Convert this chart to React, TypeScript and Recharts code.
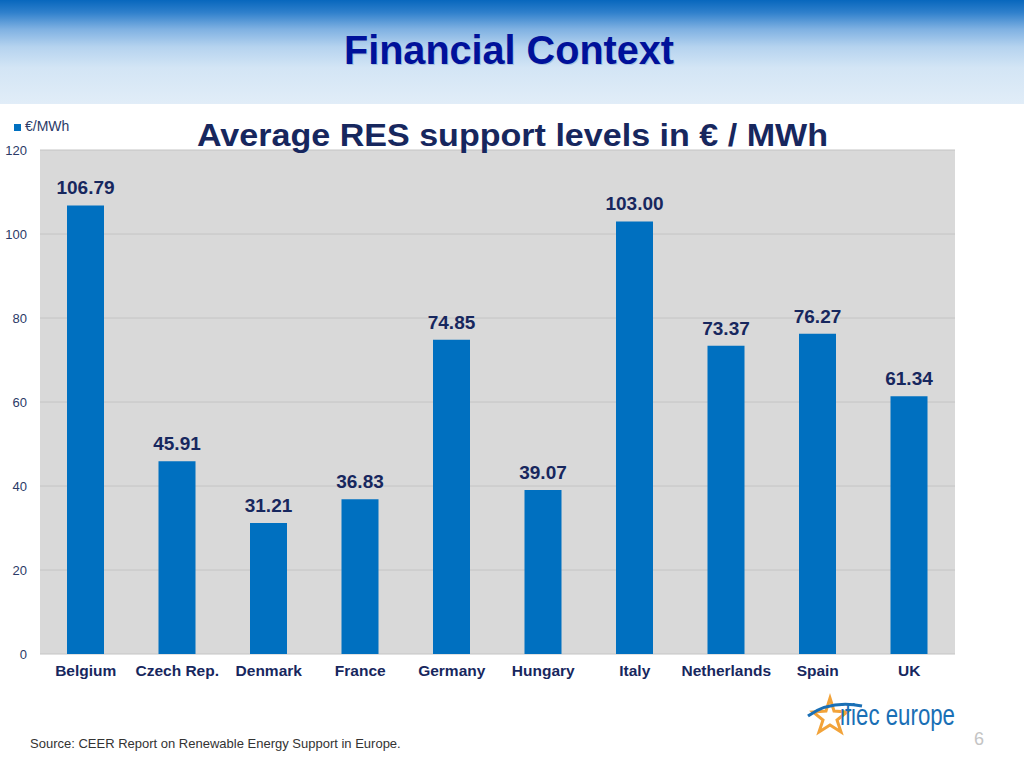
import React from "react";
import { BarChart, Bar, XAxis, YAxis, CartesianGrid, LabelList, Legend } from "recharts";

const countries = ["Belgium", "Czech Rep.", "Denmark", "France", "Germany", "Hungary", "Italy", "Netherlands", "Spain", "UK"];
const supportLevels = [106.79, 45.91, 31.21, 36.83, 74.85, 39.07, 103.0, 73.37, 76.27, 61.34];
const yTicks = [0, 20, 40, 60, 80, 100, 120];
const seriesName = "€/MWh";

const data = countries.map((c, i) => ({ country: c, value: supportLevels[i] }));

const NAVY = "#17275e";
const BAR = "#0070c0";
const FONT = "Liberation Sans, Arial, sans-serif";

export default function App() {
  return (
    <div
      style={{
        position: "absolute",
        left: 0,
        top: 0,
        width: 1024,
        height: 768,
        background: "#ffffff",
        overflow: "hidden",
        fontFamily: FONT,
      }}
    >
      <div
        style={{
          position: "absolute",
          left: 0,
          top: 0,
          width: 1024,
          height: 104,
          background:
            "linear-gradient(to bottom, #0867bd 0%, #2f80cc 12%, #7fb1e2 28%, #b5d3ef 45%, #d3e5f5 65%, #e1edf8 100%)",
        }}
      />
      <div style={{ position: "absolute", left: 0, top: 0 }}>
        <BarChart
          width={1024}
          height={768}
          data={data}
          margin={{ top: 134, right: 69, bottom: 84, left: 0 }}
        >
          <CartesianGrid vertical={false} fill="#d9d9d9" stroke="#c4c4c4" strokeWidth={1} />
          <XAxis
            dataKey="country"
            axisLine={false}
            tickLine={false}
            tickSize={0}
            tickMargin={11}
            height={30}
            interval={0}
            tick={{ fill: NAVY, fontSize: 15.5, fontWeight: "bold" }}
          />
          <YAxis
            domain={[0, 120]}
            ticks={yTicks}
            width={40}
            axisLine={false}
            tickLine={false}
            tickSize={0}
            tickMargin={13}
            tick={{ fill: "#2b3a67", fontSize: 13 }}
          />
          <Legend
            verticalAlign="top"
            align="left"
            iconType="square"
            iconSize={7}
            wrapperStyle={{ position: "absolute", top: 118, left: 14, width: 120, fontSize: 14, height: 16, lineHeight: "16px" }}
            formatter={(v: string) => <span style={{ color: "#2b3a67", fontSize: 14 }}>{v}</span>}
          />
          <Bar dataKey="value" name={seriesName} fill={BAR} barSize={37} isAnimationActive={false}>
            <LabelList
              dataKey="value"
              position="top"
              offset={11}
              formatter={(v: number) => v.toFixed(2)}
              style={{ fill: NAVY, fontSize: 19, fontWeight: "bold" }}
            />
          </Bar>
        </BarChart>
      </div>
      <svg
        style={{ position: "absolute", left: 0, top: 0, pointerEvents: "none" }}
        width={1024}
        height={768}
      >
        <text
          x={345}
          y={65}
          fontSize={40}
          fontWeight="bold"
          fill="#a9c3df"
          textLength={330}
          lengthAdjust="spacingAndGlyphs"
          fontFamily={FONT}
        >
          Financial Context
        </text>
        <text
          x={344}
          y={64}
          fontSize={40}
          fontWeight="bold"
          fill="#00119a"
          textLength={330}
          lengthAdjust="spacingAndGlyphs"
          fontFamily={FONT}
        >
          Financial Context
        </text>
        <text
          x={197}
          y={146}
          fontSize={32}
          fontWeight="bold"
          fill={NAVY}
          textLength={631}
          lengthAdjust="spacingAndGlyphs"
          fontFamily={FONT}
        >
          Average RES support levels in € / MWh
        </text>
        <text x={30} y={748} fontSize={13} fill="#333333" fontFamily={FONT}>
          Source: CEER Report on Renewable Energy Support in Europe.
        </text>
        {/* logo approximation */}
        <g>
          <path
            d="M830 698 L834 711 L847 712 L837 720 L841 732 L830 725 L819 732 L823 720 L813 712 L826 711 Z"
            fill="none"
            stroke="#f2a33a"
            strokeWidth={3}
          />
          <path d="M808 716 Q830 700 862 706" fill="none" stroke="#1a6fb5" strokeWidth={3} />
          <text
            x={840}
            y={725}
            fontSize={29}
            fill="#1a6fb5"
            textLength={115}
            lengthAdjust="spacingAndGlyphs"
            fontFamily={FONT}
          >
            ifiec europe
          </text>
        </g>
        <text x={974} y={745} fontSize={18} fill="#c4c4c4" fontFamily={FONT}>
          6
        </text>
      </svg>
    </div>
  );
}
